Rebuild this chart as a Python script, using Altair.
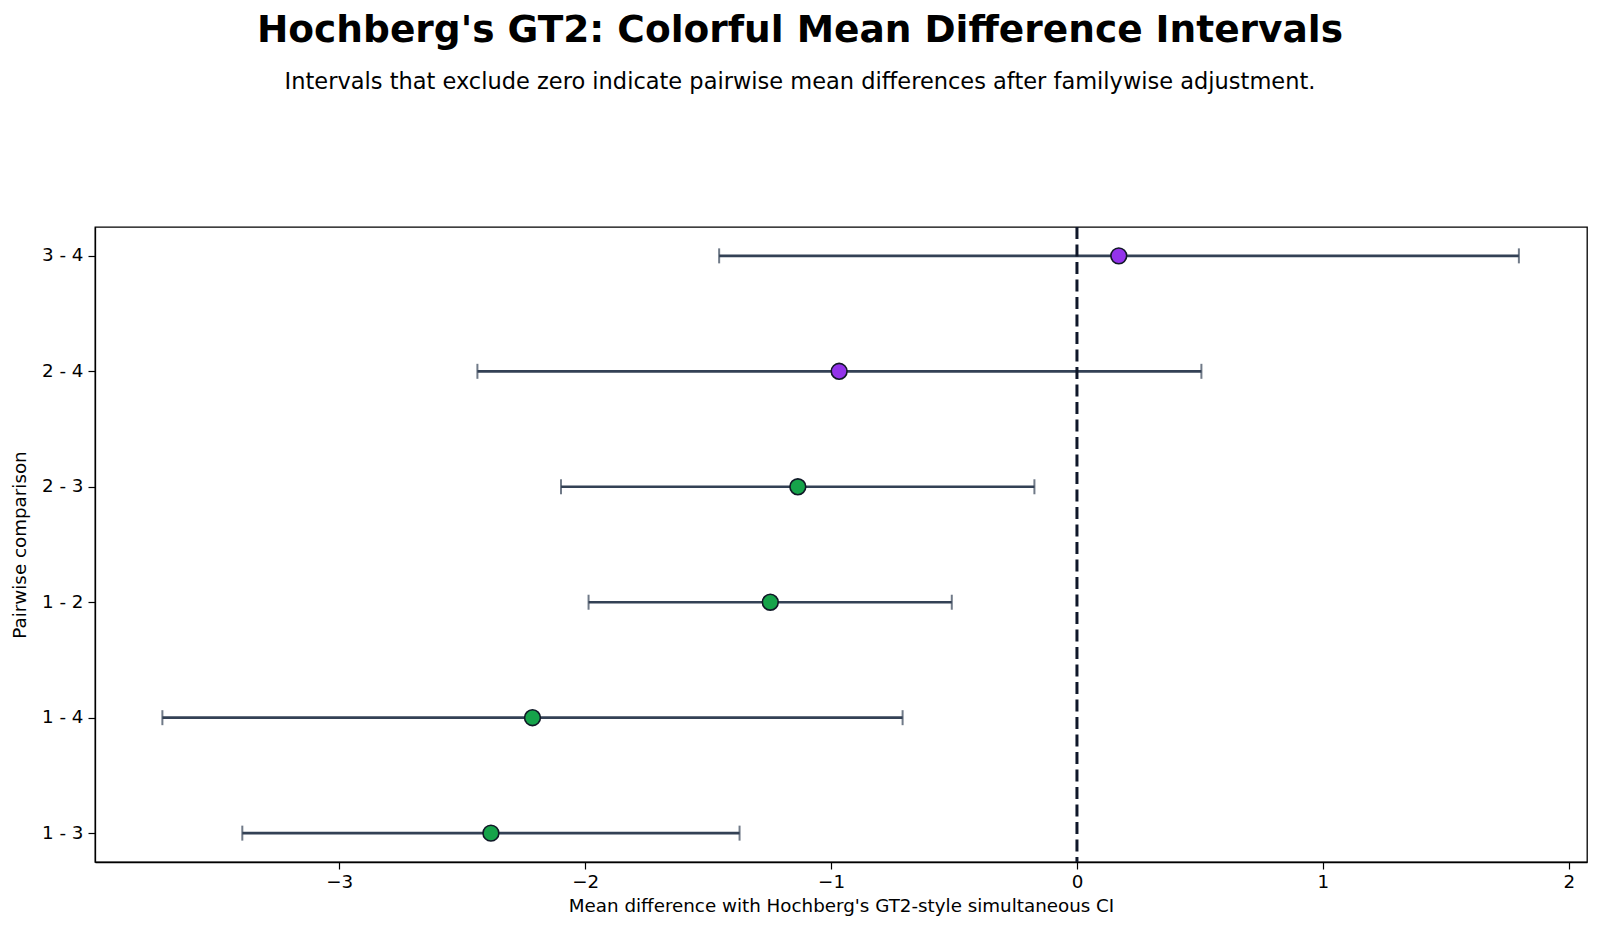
import altair as alt
import pandas as pd

pairs = ["3 - 4", "2 - 4", "2 - 3", "1 - 2", "1 - 4", "1 - 3"]
means = [0.17, -0.967, -1.135, -1.247, -2.214, -2.383]
lowers = [-1.455, -2.438, -2.098, -1.986, -3.719, -3.394]
uppers = [1.797, 0.506, -0.173, -0.509, -0.709, -1.372]
significant = ["no", "no", "yes", "yes", "yes", "yes"]

df = pd.DataFrame({
    "pair": pairs,
    "mean": means,
    "lower": lowers,
    "upper": uppers,
    "sig": significant,
})
zero_df = pd.DataFrame({"x": [0.0]})

FONT = "DejaVu Sans"
FS = 18.3
xscale = alt.Scale(domain=[-3.993, 2.074], nice=False, zero=False)
yscale = alt.Scale(type="point", padding=0.25)

base = alt.Chart(df)

y_enc = alt.Y(
    "pair:N",
    sort=pairs,
    scale=yscale,
    axis=alt.Axis(
        title="Pairwise comparison",
        grid=False,
        domain=True,
        domainColor="black",
        domainWidth=1.3,
        ticks=True,
        tickSize=7,
        tickColor="black",
        tickWidth=1.2,
        labelPadding=5,
        labelFontSize=FS,
        labelFont=FONT,
        labelColor="black",
        titleFont=FONT,
        titleFontSize=FS,
        titleFontWeight="normal",
        titleColor="black",
        titlePadding=12,
    ),
)

x_axis = alt.Axis(
    title="Mean difference with Hochberg's GT2-style simultaneous CI",
    values=[-3, -2, -1, 0, 1, 2],
    format="d",
    grid=False,
    domain=True,
    domainColor="black",
    domainWidth=1.3,
    ticks=True,
    tickSize=7,
    tickColor="black",
    tickWidth=1.2,
    labelPadding=4,
    labelFontSize=FS,
    labelFont=FONT,
    labelColor="black",
    titleFont=FONT,
    titleFontSize=FS,
    titleFontWeight="normal",
    titleColor="black",
    titlePadding=7,
)

ci = base.mark_rule(color="#334155", strokeWidth=2.7).encode(
    x=alt.X("lower:Q", scale=xscale, axis=x_axis),
    x2="upper:Q",
    y=y_enc,
)

cap_lo = base.mark_tick(color="#334155", thickness=2, size=15, orient="vertical").encode(
    x=alt.X("lower:Q", scale=xscale),
    y=alt.Y("pair:N", sort=pairs, scale=yscale),
)
cap_hi = base.mark_tick(color="#334155", thickness=2, size=15, orient="vertical").encode(
    x=alt.X("upper:Q", scale=xscale),
    y=alt.Y("pair:N", sort=pairs, scale=yscale),
)

zero_line = alt.Chart(zero_df).mark_rule(
    color="#0f172a", strokeWidth=3, strokeDash=[12, 5.5]
).encode(x=alt.X("x:Q", scale=xscale))

points = base.mark_circle(size=250, opacity=1, stroke="#111827", strokeWidth=1.6).encode(
    x=alt.X("mean:Q", scale=xscale),
    y=alt.Y("pair:N", sort=pairs, scale=yscale),
    fill=alt.Fill(
        "sig:N",
        scale=alt.Scale(domain=["yes", "no"], range=["#16a34a", "#9333ea"]),
        legend=None,
    ),
)

chart = (
    alt.layer(ci, cap_lo, cap_hi, zero_line, points)
    .properties(
        width=1492,
        height=635,
        background="white",
        autosize=alt.AutoSizeParams(type="none"),
        padding={"left": 95, "top": 227, "right": 13, "bottom": 70},
        title=alt.TitleParams(
            text="Hochberg's GT2: Colorful Mean Difference Intervals",
            subtitle="Intervals that exclude zero indicate pairwise mean differences after familywise adjustment.",
            anchor="middle",
            dx=-41,
            offset=132,
            font=FONT,
            fontSize=37.5,
            fontWeight="bold",
            color="black",
            subtitleFont=FONT,
            subtitleFontSize=22.5,
            subtitleColor="black",
            subtitlePadding=22,
        ),
    )
    .configure_view(stroke="black", strokeWidth=1.3)
)

chart.save("out.html", embed_options={"renderer": "svg", "actions": False})
